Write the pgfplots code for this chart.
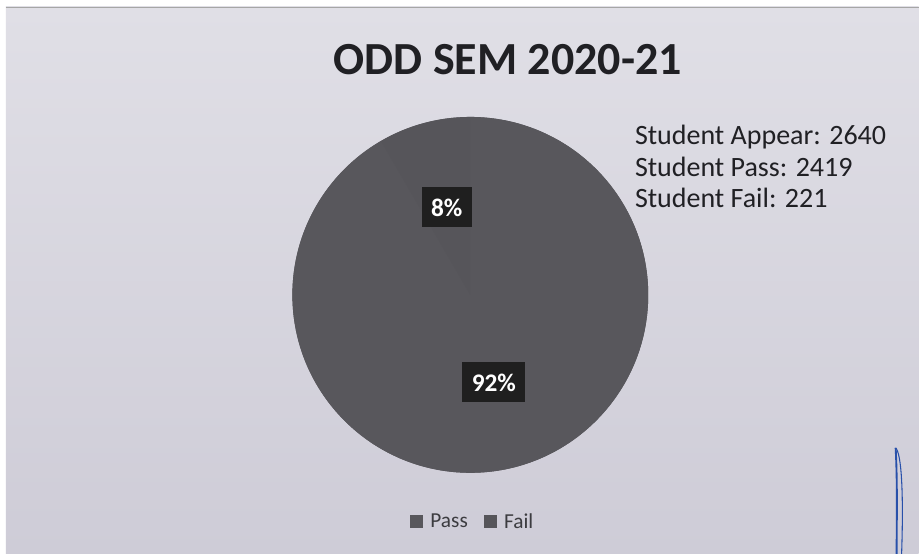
\documentclass[border=0pt]{standalone}
\usepackage{pgfplots}
\pgfplotsset{compat=1.18}
\usepackage{pgfplotstable}
\usepackage{fontspec}
\setmainfont{Carlito}
\definecolor{paper}{RGB}{206,204,215}
\definecolor{paperlight}{RGB}{224,223,230}
\definecolor{pieA}{RGB}{88,87,92}
\definecolor{pieB}{RGB}{86,85,90}
\definecolor{ink}{RGB}{32,32,36}
\definecolor{legink}{RGB}{60,60,64}
\definecolor{pen}{RGB}{40,80,170}

\pgfplotstableread{
label value
Pass 2419
Fail 221
}\piedata

\begin{document}
\begin{tikzpicture}
\pgfplotstablegetelem{0}{value}\of\piedata \edef\vpass{\pgfplotsretval}
\pgfplotstablegetelem{1}{value}\of\piedata \edef\vfail{\pgfplotsretval}
\pgfmathsetmacro\vtotal{\vpass+\vfail}
\pgfmathsetmacro\fracpass{\vpass/\vtotal}
\pgfmathsetmacro\fracfail{\vfail/\vtotal}
\pgfmathsetmacro\apass{360*\fracpass}
\pgfmathsetmacro\pend{90-\apass}
\pgfmathsetmacro\pmid{90-\apass/2}
\pgfmathsetmacro\fmid{(\pend-270)/2}
\pgfmathtruncatemacro\ppass{round(100*\fracpass)}
\pgfmathtruncatemacro\pfail{round(100*\fracfail)}
\begin{axis}[
  x=0.75pt, y=0.75pt,
  xmin=0, xmax=919, ymin=0, ymax=554,
  hide axis, clip=false,
  legend style={at={(axis description cs:0.515,0.058)}, anchor=center,
    draw=none, fill=none, legend columns=2,
    font=\fontsize{16}{19}\selectfont, text=legink,
    /tikz/every even column/.append style={column sep=10pt},
    legend cell align=left},
  legend image code/.code={\fill[#1, draw=none] (0pt,-4.9pt) rectangle (9.75pt,4.9pt); \path (13pt,0pt);},
]
% paper background
\fill[white] (axis cs:0,0) rectangle (axis cs:919,554);
\shade[top color=paperlight, bottom color=paper] (axis cs:6,0) rectangle (axis cs:919,547);
\draw[gray!70, line width=0.6pt] (axis cs:6,547) -- (axis cs:919,547);
% pie base (hides seams between wedges)
\fill[pieA] (axis cs:470.5,259) circle[radius=133.5pt];
% pie wedges from the table values
\fill[pieA] (axis cs:470.5,259) -- ++(90:133.5pt) arc[start angle=90, end angle=\pend, radius=133.5pt] -- cycle;
\fill[pieB] (axis cs:470.5,259) -- ++(\pend:133.5pt) arc[start angle=\pend, end angle=-270, radius=133.5pt] -- cycle;
% data labels
\path (axis cs:470.5,259) ++(\pmid:68pt) node[fill=black!88, text=white, inner xsep=7pt, minimum height=30pt,
  font=\bfseries\fontsize{19}{22}\selectfont] {\ppass\%};
\path (axis cs:470.5,259) ++(\fmid:68pt) node[fill=black!88, text=white, inner xsep=7pt, minimum height=30pt,
  font=\bfseries\fontsize{19}{22}\selectfont] {\pfail\%};
% title
\node[anchor=base, text=ink, font=\bfseries\fontsize{34.5}{40}\selectfont] at (axis cs:508,479) {ODD SEM 2020-21};
% side text
\node[anchor=base west, inner sep=0pt, text=ink, font=\fontsize{21}{24}\selectfont] at (axis cs:635,409) {Student Appear: 2640};
\node[anchor=base west, inner sep=0pt, text=ink, font=\fontsize{21}{24}\selectfont] at (axis cs:635,377) {Student Pass: 2419};
\node[anchor=base west, inner sep=0pt, text=ink, font=\fontsize{21}{24}\selectfont] at (axis cs:635,346) {Student Fail: 221};
% legend
\addlegendimage{fill=pieA}
\addlegendentry{Pass}
\addlegendimage{fill=pieB}
\addlegendentry{Fail}
% pen stroke
\draw[pen, line width=1.4pt] (axis cs:896,106) .. controls (axis cs:898,70) and (axis cs:897,30) .. (axis cs:897,0);
\draw[pen, line width=0.8pt] (axis cs:896,106) .. controls (axis cs:902,100) and (axis cs:904,60) .. (axis cs:902,0);
\end{axis}
\end{tikzpicture}
\end{document}
